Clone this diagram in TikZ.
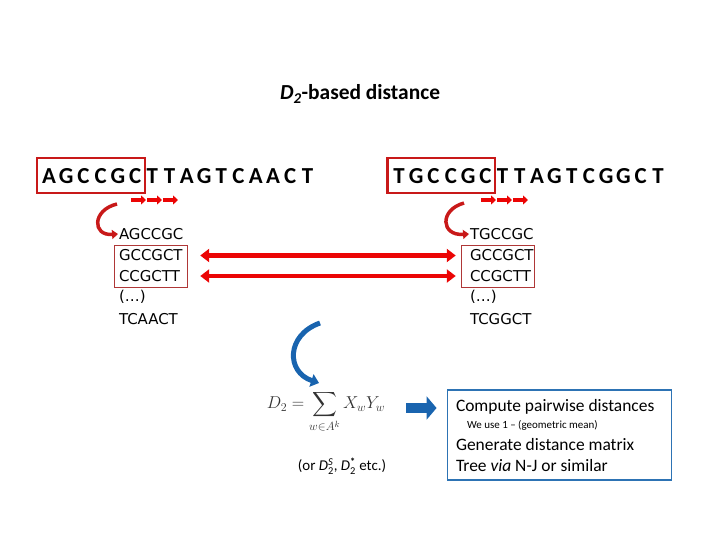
\documentclass[tikz,border=0pt]{standalone}
\usepackage{amsmath}
\usepackage{fontspec}
\setmainfont{Carlito}
\newfontfamily\listfont{DejaVu Sans}
\usepackage{tikz}
\usetikzlibrary{arrows.meta,positioning,calc}

\definecolor{seqred}{RGB}{200,25,25}
\definecolor{arrred}{RGB}{235,5,5}
\definecolor{thinred}{RGB}{175,55,55}
\definecolor{arrblue}{RGB}{25,100,175}
\definecolor{boxblue}{RGB}{45,115,180}

\tikzset{
  base/.style={inner sep=0pt, outer sep=0pt},
  seqletter/.style={base, font=\fontsize{23}{25}\selectfont\bfseries},
  seqbox/.style={draw=seqred, line width=2.6pt, minimum width=108, minimum height=35},
  kmer/.style={base, anchor=west, font=\listfont\fontsize{15}{17}\selectfont},
  listbox/.style={draw=thinred, line width=0.8pt, minimum width=74, minimum height=42},
  slide/.style={arrred, line width=4pt, -{Triangle[length=5pt,width=9pt]}},
  pairarrow/.style={arrred, line width=4.5pt, {Triangle[length=9pt,width=13pt]}-{Triangle[length=9pt,width=13pt]}},
  curlred/.style={seqred, line width=3.5pt, -{Triangle[length=6pt,width=9pt]}},
  curlblue/.style={arrblue, line width=5pt, -{Triangle[length=8pt,width=13pt]}},
  bluearrow/.style={arrblue, line width=11pt, -{Triangle[length=10pt,width=23pt]}},
  stepsbox/.style={draw=boxblue, line width=1.8pt, minimum width=225, minimum height=90},
  steptext/.style={base, anchor=west, font=\fontsize{17.5}{19}\selectfont}
}

\begin{document}
\begin{tikzpicture}[x=1bp, y=-1bp, >=stealth]
\useasboundingbox (0,0) rectangle (720,540);

% title
\node[base, font=\fontsize{21.5}{24}\selectfont\bfseries] (title) at (360,94)
  {\textit{D}\textsubscript{\textit{2}}-based distance};

% the two sequences
\foreach \b [count=\i] in {A,G,C,C,G,C,T,T,A,G,T,C,A,A,C,T}
  \node[seqletter] (L\i) at ({49+(\i-1)*17.23},176) {\b};
\foreach \b [count=\i] in {T,G,C,C,G,C,T,T,A,G,T,C,G,G,C,T}
  \node[seqletter] (R\i) at ({399+(\i-1)*17.27},176) {\b};

\node[seqbox] (boxL) at (91,175.5) {};
\node[seqbox] (boxR) at (441,175.5) {};

% sliding window
\foreach \k in {0,1,2} {
  \draw[slide] ({131+\k*16},200) -- ++(15,0);
  \draw[slide] ({481+\k*16},200) -- ++(15,0);
}

% k-mer lists
\node[kmer] (l1) at (119,234) {AGCCGC};
\node[kmer] (l2) at (119,255.5) {GCCGCT};
\node[kmer] (l3) at (119,276) {CCGCTT};
\node[kmer] (l4) at (119,297) {(…)};
\node[kmer] (l5) at (119,319) {TCAACT};

\node[kmer] (r1) at (470,234) {TGCCGC};
\node[kmer] (r2) at (470,255.5) {GCCGCT};
\node[kmer] (r3) at (470,276) {CCGCTT};
\node[kmer] (r4) at (470,297) {(…)};
\node[kmer] (r5) at (470,319) {TCGGCT};

\node[listbox] (listL) at (151,266) {};
\node[listbox] (listR) at (498,266) {};

\coordinate (cl) at (117,204);
\coordinate (cr) at (464,203);
\draw[curlred] (cl) .. controls (92,210) and (92,236) .. ([xshift=-1]l1.west);
\draw[curlred] (cr) .. controls (439,210) and (441,236) .. ([xshift=-1]r1.west);

\draw[pairarrow] ([xshift=12]listL.east |- l2) -- ([xshift=-5]listR.west |- r2);
\draw[pairarrow] ([xshift=12]listL.east |- l3) -- ([xshift=-5]listR.west |- r3);

% D2 statistic
\coordinate (cb) at (320,323);
\coordinate (cbend) at (319,383);
\draw[curlblue] (cb) .. controls (286,335) and (286,372) .. (cbend);

\node[base, text=black!80, font=\fontsize{17.5}{20}\selectfont] (eq) at (326,412)
  {$\displaystyle D_2=\sum_{w\in A^k}X_wY_w$};
\node[base, font=\fontsize{15}{18}\selectfont] (other) at (342,466)
  {(or \textit{D}$^{\text{\itshape S}}_{\text{2}}$, \textit{D}$^{\textbf{*}}_{\text{2}}$ etc.)};

% what is done with it
\node[stepsbox] (steps) at (559.5,435) {};
\draw[bluearrow] (406,408) -- ([xshift=-10]steps.west |- 0,408);

\node[steptext] (s1) at (456,407) {Compute pairwise distances};
\node[base, anchor=west, font=\fontsize{11}{12}\selectfont] (s1b) at (467,425)
  {We use 1 – (geometric mean)};
\node[steptext] (s2) at (456,445) {Generate distance matrix};
\node[steptext] (s3) at (456,466) {Tree \textit{via} N-J or similar};
\end{tikzpicture}
\end{document}
